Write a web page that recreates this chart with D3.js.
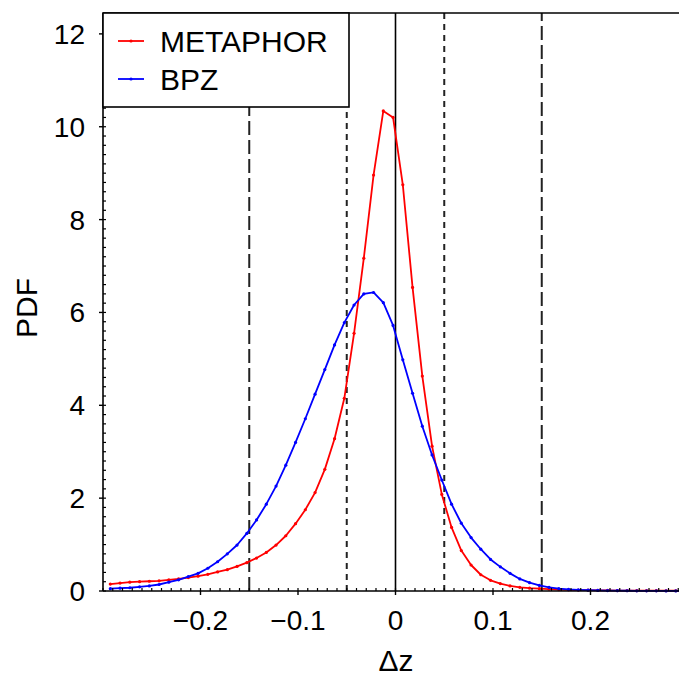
<!DOCTYPE html>
<meta charset="utf-8">
<title>PDF of dz</title>

<style>
body{
	margin: 0;
	background: white;
}
text{
	font-family: "Liberation Sans", Arial, sans-serif;
	fill: black;
}
</style>

<body>

<script src="https://d3js.org/d3.v7.min.js"></script>

<script>

// bin centres (delta z)
var dz = [-0.2925, -0.2825, -0.2725, -0.2625, -0.2525, -0.2425, -0.2325, -0.2225, -0.2125, -0.2025,
	-0.1925, -0.1825, -0.1725, -0.1625, -0.1525, -0.1425, -0.1325, -0.1225, -0.1125, -0.1025,
	-0.0925, -0.0825, -0.0725, -0.0625, -0.0525, -0.0425, -0.0325, -0.0225, -0.0125, -0.0025,
	0.0075, 0.0175, 0.0275, 0.0375, 0.0475, 0.0575, 0.0675, 0.0775, 0.0875, 0.0975,
	0.1075, 0.1175, 0.1275, 0.1375, 0.1475, 0.1575, 0.1675, 0.1775, 0.1875, 0.1975,
	0.2075, 0.2175, 0.2275, 0.2375, 0.2475, 0.2575, 0.2675, 0.2775, 0.2875, 0.2975];

var metaphor = [0.15, 0.17, 0.19, 0.20, 0.21, 0.22, 0.24, 0.26, 0.29, 0.32,
	0.36, 0.41, 0.46, 0.53, 0.61, 0.71, 0.83, 0.99, 1.19, 1.45,
	1.75, 2.12, 2.62, 3.28, 4.15, 5.55, 7.17, 8.96, 10.34, 10.20,
	8.75, 6.54, 4.63, 3.12, 2.08, 1.37, 0.87, 0.56, 0.35, 0.23,
	0.16, 0.11, 0.08, 0.06, 0.05, 0.04, 0.03, 0.025, 0.02, 0.018,
	0.015, 0.012, 0.010, 0.009, 0.008, 0.007, 0.006, 0.005, 0.005, 0.004];

var bpz = [0.05, 0.06, 0.07, 0.09, 0.11, 0.14, 0.19, 0.24, 0.31, 0.38,
	0.49, 0.63, 0.80, 0.99, 1.24, 1.53, 1.87, 2.26, 2.71, 3.20,
	3.71, 4.24, 4.77, 5.30, 5.78, 6.16, 6.40, 6.43, 6.21, 5.72,
	4.98, 4.26, 3.55, 2.93, 2.39, 1.87, 1.46, 1.15, 0.90, 0.68,
	0.52, 0.38, 0.26, 0.18, 0.12, 0.08, 0.05, 0.035, 0.025, 0.018,
	0.012, 0.009, 0.007, 0.005, 0.004, 0.003, 0.003, 0.002, 0.002, 0.001];

var seriesnames = ['METAPHOR', 'BPZ'];
var seriescolors = ['#ff0000', '#0000ff'];

var xticks = [-0.2, -0.1, 0, 0.1, 0.2];
var xticklabels = ['\u22120.2', '\u22120.1', '0', '0.1', '0.2'];
var yticks = [0, 2, 4, 6, 8, 10, 12];
var vlines = [-0.15, -0.05, 0.05, 0.15];

var width = 679;
var height = 677;

var x = d3.scaleLinear().domain([-0.3, 0.3]).range([103, 688]);
var y = d3.scaleLinear().domain([0, 12.45]).range([591, 13]);

var svg = d3.select('body')
	.append('svg')
	.attr('width', width)
	.attr('height', height);

// threshold lines
svg.selectAll('.vline')
	.data(vlines)
	.enter()
	.append('line')
	.attr('class', 'vline')
	.attr('x1', function(d){ return x(d); })
	.attr('x2', function(d){ return x(d); })
	.attr('y1', y(0))
	.attr('y2', y.range()[1])
	.attr('stroke', '#222')
	.attr('stroke-width', 2)
	.attr('stroke-dasharray', function(d){ return Math.abs(d) > 0.1 ? '14,5' : '6,5'; });

svg.append('line')
	.attr('x1', x(0)).attr('x2', x(0))
	.attr('y1', y(0)).attr('y2', y.range()[1])
	.attr('stroke', 'black')
	.attr('stroke-width', 1.6);

// curves
var series = [metaphor, bpz];
var line = d3.line()
	.x(function(d, i){ return x(dz[i]); })
	.y(function(d){ return y(d); });

series.forEach(function(s, j){
	svg.append('path')
		.datum(s)
		.attr('d', line)
		.attr('fill', 'none')
		.attr('stroke', seriescolors[j])
		.attr('stroke-width', 1.8)
		.attr('stroke-linejoin', 'round');

	svg.append('g')
		.selectAll('circle')
		.data(s)
		.enter()
		.append('circle')
		.attr('cx', function(d, i){ return x(dz[i]); })
		.attr('cy', function(d){ return y(d); })
		.attr('r', 1.6)
		.attr('fill', seriescolors[j]);
});

// frame
var frame = svg.append('g')
	.attr('stroke', 'black')
	.attr('stroke-width', 1.6);
frame.append('line').attr('x1', 103).attr('x2', width).attr('y1', y(0)).attr('y2', y(0));
frame.append('line').attr('x1', 103).attr('x2', width).attr('y1', y.range()[1]).attr('y2', y.range()[1]);
frame.append('line').attr('x1', 103).attr('x2', 103).attr('y1', y(0)).attr('y2', y.range()[1]);

// x ticks
var xminor = d3.range(-30, 31).map(function(i){ return i / 100; });
svg.append('g')
	.selectAll('line')
	.data(xminor)
	.enter()
	.append('line')
	.attr('x1', function(d){ return x(d); })
	.attr('x2', function(d){ return x(d); })
	.attr('y1', y(0))
	.attr('y2', y(0) - 3)
	.attr('stroke', 'black')
	.attr('stroke-width', 1.2);

svg.append('g')
	.selectAll('line')
	.data(xticks)
	.enter()
	.append('line')
	.attr('x1', function(d){ return x(d); })
	.attr('x2', function(d){ return x(d); })
	.attr('y1', y(0))
	.attr('y2', y(0) + 4)
	.attr('stroke', 'black')
	.attr('stroke-width', 1.4);

svg.append('g')
	.selectAll('text')
	.data(xticks)
	.enter()
	.append('text')
	.attr('x', function(d){ return x(d); })
	.attr('y', 630)
	.attr('text-anchor', 'middle')
	.style('font-size', '28px')
	.text(function(d, i){ return xticklabels[i]; });

// y ticks
var yminor = d3.range(0, 63).map(function(i){ return i / 5; });
svg.append('g')
	.selectAll('line')
	.data(yminor)
	.enter()
	.append('line')
	.attr('x1', 103)
	.attr('x2', 106)
	.attr('y1', function(d){ return y(d); })
	.attr('y2', function(d){ return y(d); })
	.attr('stroke', 'black')
	.attr('stroke-width', 1.2);

svg.append('g')
	.selectAll('line')
	.data(yticks)
	.enter()
	.append('line')
	.attr('x1', 99)
	.attr('x2', 103)
	.attr('y1', function(d){ return y(d); })
	.attr('y2', function(d){ return y(d); })
	.attr('stroke', 'black')
	.attr('stroke-width', 1.4);

svg.append('g')
	.selectAll('text')
	.data(yticks)
	.enter()
	.append('text')
	.attr('x', 85)
	.attr('y', function(d){ return y(d) + 10; })
	.attr('text-anchor', 'end')
	.style('font-size', '28px')
	.text(function(d){ return d; });

// axis titles
svg.append('text')
	.attr('x', 396)
	.attr('y', 671)
	.attr('text-anchor', 'middle')
	.style('font-size', '30px')
	.text('\u0394z');

svg.append('text')
	.attr('transform', 'translate(37,308) rotate(-90)')
	.attr('text-anchor', 'middle')
	.style('font-size', '30px')
	.text('PDF');

// legend
var legend = svg.append('g');
legend.append('rect')
	.attr('x', 103)
	.attr('y', 13)
	.attr('width', 246)
	.attr('height', 94)
	.attr('fill', 'white')
	.attr('stroke', 'black')
	.attr('stroke-width', 1.6);

seriesnames.forEach(function(name, j){
	var ly = 41 + j * 38;
	legend.append('line')
		.attr('x1', 118).attr('x2', 144)
		.attr('y1', ly).attr('y2', ly)
		.attr('stroke', seriescolors[j])
		.attr('stroke-width', 1.8);
	legend.append('circle')
		.attr('cx', 131).attr('cy', ly)
		.attr('r', 1.6)
		.attr('fill', seriescolors[j]);
	legend.append('text')
		.attr('x', 160)
		.attr('y', ly + 11)
		.style('font-size', '30px')
		.text(name);
});

</script>
</body>
